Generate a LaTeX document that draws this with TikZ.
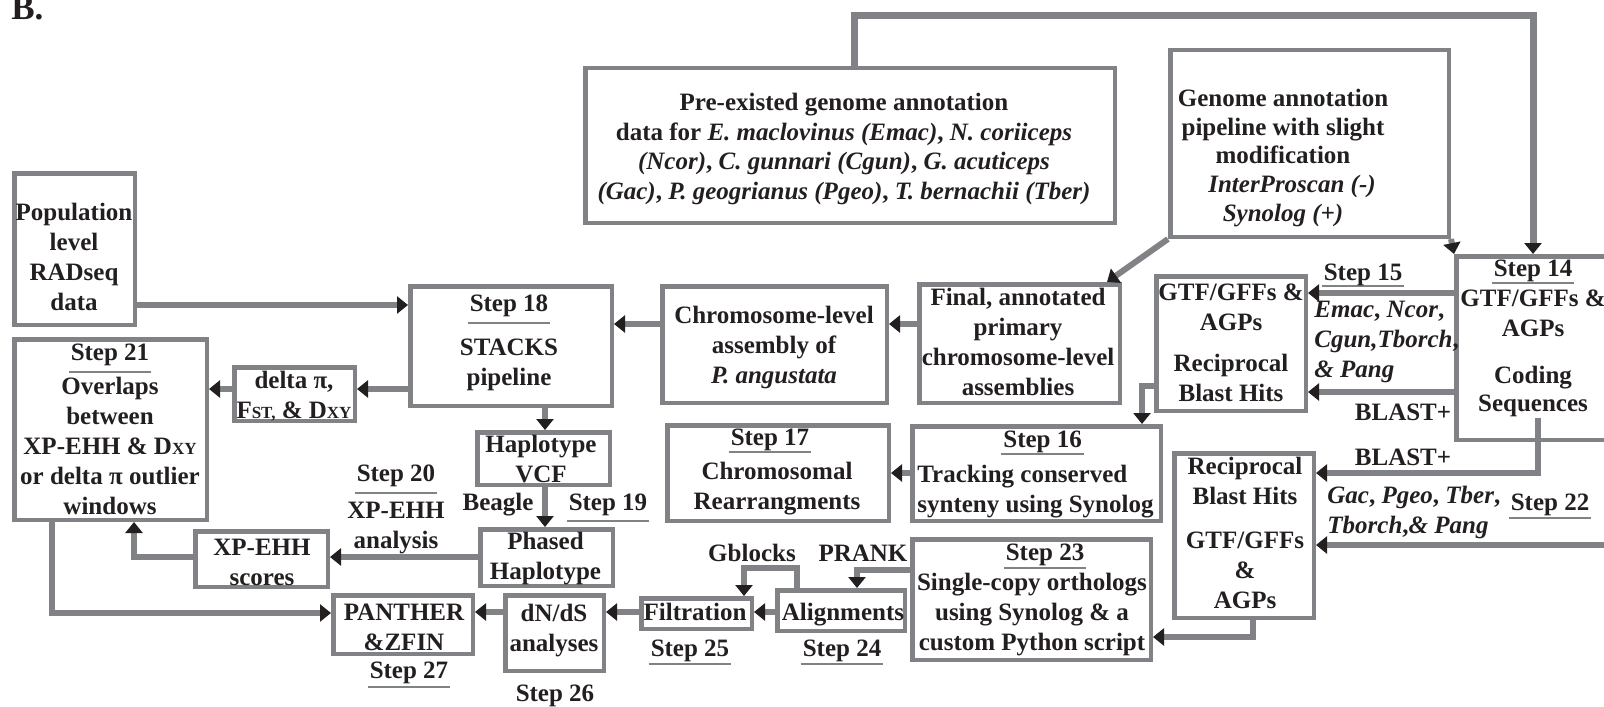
\documentclass[tikz,border=0pt]{standalone}
\usepackage{fontspec}
\setmainfont{Liberation Serif}
\usetikzlibrary{arrows.meta}
\definecolor{lg}{RGB}{128,130,133}
\definecolor{tx}{RGB}{35,31,32}
\newsavebox\stpbox
\newcommand\stp[2][5.5pt]{\sbox\stpbox{#2}\leavevmode\rlap{\smash{\color{lg}\kern-1pt\rule[-\dimexpr#1+0.5pt\relax]{\dimexpr\wd\stpbox+2pt\relax}{1pt}}}\usebox\stpbox}
\newcommand\smc[1]{{\fontsize{8.5}{8.5}\selectfont #1}}
\begin{document}
\begin{tikzpicture}[x=0.5pt,y=-0.5pt,
  box/.style={draw=lg,line width=2.25pt,inner sep=0pt},
  bw/.style={minimum width=#1*0.5pt},
  bh/.style={minimum height=#1*0.5pt},
  txt/.style={text=tx,align=center,inner sep=0pt,font=\bfseries\fontsize{12.5}{15}\selectfont},
  conn/.style={draw=lg,line width=3pt,-{Triangle[length=5.5pt,width=8.5pt,color=tx]}},
]
\useasboundingbox (0,0) rectangle (1604,706);
% boxes
\node[box,bw=120.5,bh=151.5] (pop) at (74.5,249) {};
\node[box,bw=192.5,bh=180.5] (step21) at (110.5,429.5) {};
\node[box,bw=120.5,bh=53.5] (delta) at (294.5,394) {};
\node[box,bw=201.5,bh=119.5] (step18) at (511,346) {};
\node[box,bw=132.5,bh=52.5] (hap) at (543.5,458.5) {};
\node[box,bw=132.5,bh=56.5] (phased) at (546.5,557.5) {};
\node[box,bw=132.5,bh=55.5] (xps) at (261.5,559) {};
\node[box,bw=139.5,bh=58.5] (panther) at (403,624.5) {};
\node[box,bw=98.5,bh=75.5] (dnds) at (554.5,633) {};
\node[box,bw=110.5,bh=30.5] (filt) at (696.5,613.5) {};
\node[box,bw=127.5,bh=40.5] (alignb) at (841,610.5) {};
\node[box,bw=238.5,bh=120.5] (step23) at (1031.5,599.5) {};
\node[box,bw=221.5,bh=95.5] (step17) at (778,473) {};
\node[box,bw=248.5,bh=94.5] (step16) at (1036.5,473.5) {};
\node[box,bw=224.5,bh=116.5] (chrom) at (774.5,344.5) {};
\node[box,bw=200.5,bh=118.5] (final) at (1019.5,343.5) {};
\node[box,bw=149.5,bh=134.5] (rbh1) at (1231,343.5) {};
\node[box,bw=191.5,bh=183.5] (step14) at (1552,348) {};
\node[box,bw=278.5,bh=186.5] (genome) at (1309.5,143.5) {};
\node[box,bw=529.5,bh=154.5] (pre) at (850,145.5) {};
\node[box,bw=139.5,bh=164.5] (rbh2) at (1244,535.5) {};
% box texts
\node[txt] (popt) at (74,257) {Population\\level\\RADseq\\data};
\node[txt] (step21t) at (110,429.5) {\stp{Step 21}\\[2pt]Overlaps\\between\\XP-EHH \& D\smc{XY}\\or delta π outlier\\windows};
\node[txt] (deltat) at (294,396) {delta π,\\F\smc{ST,} \& D\smc{XY}};
\node[txt] (step18t) at (509,343) {\stp{Step 18}\\[7pt]STACKS\\pipeline};
\node[txt] (hapt) at (541,459) {Haplotype\\VCF};
\node[txt] (phasedt) at (545.5,559) {Phased\\Haplotype};
\node[txt] (xpst) at (262,562) {XP-EHH\\scores};
\node[txt] (panthert) at (404,627) {PANTHER\\\&ZFIN};
\node[txt] (dndst) at (554,631) {dN/dS\\analyses};
\node[txt] (filtt) at (695,612) {Filtration};
\node[txt] (alignt) at (843,614.5) {Alignments};
\node[txt] (step23t) at (1032,600) {\hspace*{13pt}\stp[3.5pt]{Step 23}\\Single-copy orthologs\\using Synolog \& a\\custom Python script};
\node[txt] (step17t) at (777,472) {\hspace*{-7pt}\stp[3pt]{Step 17}\\[2pt]Chromosomal\\Rearrangments};
\node[txt,align=left,anchor=west] (step16t) at (917,474.5) {\hspace*{43pt}\stp[3pt]{Step 16}\\[2.5pt]Tracking conserved\\synteny using Synolog};
\node[txt] (chromt) at (774,347.5) {Chromosome-level\\assembly of\\\textit{P. angustata}};
\node[txt] (finalt) at (1018,342) {Final, annotated\\primary\\chromosome-level\\assemblies};
\node[txt] (rbh1t) at (1231,343) {GTF/GFFs \&\\AGPs\\[5.5pt]Reciprocal\\Blast Hits};
\node[txt] (step14t) at (1533,338) {\stp[3.5pt]{Step 14}\\GTF/GFFs \&\\AGPs\\[8.5pt]Coding\\[-1pt]Sequences};
\node[txt] (genomet) at (1283,158) {Genome annotation\\[-0.6pt]pipeline with slight\\[-0.6pt]modification\\[-0.6pt]\hspace*{9pt}\textit{InterProscan (-)}\\[-0.6pt]\textit{Synolog (+)}};
\node[txt] (pret) at (844,149) {Pre-existed genome annotation\\[-0.3pt]data for \textit{E. maclovinus (Emac)}, \textit{N. coriiceps}\\[-0.3pt]\textit{(Ncor)}, \textit{C. gunnari (Cgun)}, \textit{G. acuticeps}\\[-0.3pt]\textit{(Gac)}, \textit{P. geogrianus (Pgeo)}, \textit{T. bernachii (Tber)}};
\node[txt] (rbh2t) at (1245,533) {Reciprocal\\Blast Hits\\[7pt]GTF/GFFs\\\&\\AGPs};
% free labels
\node[txt,anchor=base west,font=\bfseries\fontsize{17.5}{20}\selectfont] (blabel) at (11,20) {B.};
\node[txt] (s15) at (1363,274.7) {\stp[3pt]{Step 15}};
\node[txt,align=left,anchor=west] (emac) at (1314,342) {\textit{Emac}, \textit{Ncor},\\\textit{Cgun,Tborch},\\\textit{\& Pang}};
\node[txt] (bl1) at (1403,412) {BLAST+};
\node[txt] (bl2) at (1403,457) {BLAST+};
\node[txt,align=left,anchor=west] (gac) at (1327,512) {\textit{Gac}, \textit{Pgeo}, \textit{Tber},\\\textit{Tborch},\textit{\& Pang}};
\node[txt] (s22) at (1550,504.7) {\stp[4pt]{Step 22}};
\node[txt] (beagle) at (498,504.7) {Beagle};
\node[txt] (s19) at (608,504.7) {\stp[5.5pt]{Step 19}};
\node[txt] (s20) at (396,509) {\stp[6pt]{Step 20}\\[3.5pt]XP-EHH\\analysis};
\node[txt] (gbl) at (752,553) {Gblocks};
\node[txt] (prank) at (863,553) {PRANK};
\node[txt] (s25) at (690,650.7) {\stp[4pt]{Step 25}};
\node[txt] (s24) at (842,650.7) {\stp[4pt]{Step 24}};
\node[txt] (s26) at (555,695.7) {Step 26};
\node[txt] (s27) at (409,672.7) {\stp[4.5pt]{Step 27}};
% helper coordinates
\coordinate (h305) at (0,305);
\coordinate (h389) at (0,389);
\coordinate (h324) at (0,324);
\coordinate (v545) at (545,0);
\coordinate (h557) at (0,557);
\coordinate (v134) at (134,0);
\coordinate (b52) at (52,613);
\coordinate (h612) at (0,612);
\coordinate (gb) at (744,568);
\coordinate (gbs) at (797,0);
\coordinate (pr) at (857,570);
\coordinate (b23) at (1253,637);
\coordinate (h473) at (0,473);
\coordinate (b16) at (1142,386);
\coordinate (t1) at (1107,0);
\coordinate (tp) at (1533,16);
\coordinate (tps) at (854,0);
\coordinate (h293) at (0,293);
\coordinate (h392) at (0,392);
\coordinate (cs) at (1538,418);
\coordinate (b473) at (0,473);
\coordinate (c22) at (1640,545);
% connectors
\draw[conn] (pop.east |- h305) -- (step18.west |- h305);
\draw[conn] (step18.west |- h389) -- (delta.east |- h389);
\draw[conn] (delta.west |- h389) -- (step21.east |- h389);
\draw[conn] (chrom.west |- h324) -- (step18.east |- h324);
\draw[conn] (final.west |- h324) -- (chrom.east |- h324);
\draw[conn] (step18.south -| v545) -- (hap.north -| v545);
\draw[conn] (hap.south -| v545) -- (phased.north -| v545);
\draw[conn] (phased.west |- h557) -- (xps.east |- h557);
\draw[conn] (xps.west |- h557) -| (step21.south -| v134);
\draw[conn] (step21.south -| b52) |- (panther.west |- b52);
\draw[conn] (dnds.west |- h612) -- (panther.east |- h612);
\draw[conn] (filt.west |- h612) -- (dnds.east |- h612);
\draw[conn] (alignb.west |- h612) -- (filt.east |- h612);
\draw[conn] (alignb.north -| gbs) |- (gb) -- (filt.north -| gb);
\draw[conn] (step23.west |- pr) -| (alignb.north -| pr);
\draw[conn] (rbh2.south -| b23) |- (step23.east |- b23);
\draw[conn] (step16.west |- h473) -- (step17.east |- h473);
\draw[conn] (rbh1.west |- b16) -| (step16.north -| b16);
\draw[conn] (genome.south west) -- (final.north -| t1);
\draw[conn] (genome.south east) -- (step14.north west);
\draw[conn,line width=3.5pt] (pre.north -| tps) |- (tp) -- (step14.north -| tp);
\draw[conn] (step14.west |- h293) -- (rbh1.east |- h293);
\draw[conn] (step14.west |- h392) -- (rbh1.east |- h392);
\draw[conn] (cs) |- (rbh2.east |- b473);
\draw[conn] (c22) -- (rbh2.east |- c22);
\end{tikzpicture}
\end{document}
